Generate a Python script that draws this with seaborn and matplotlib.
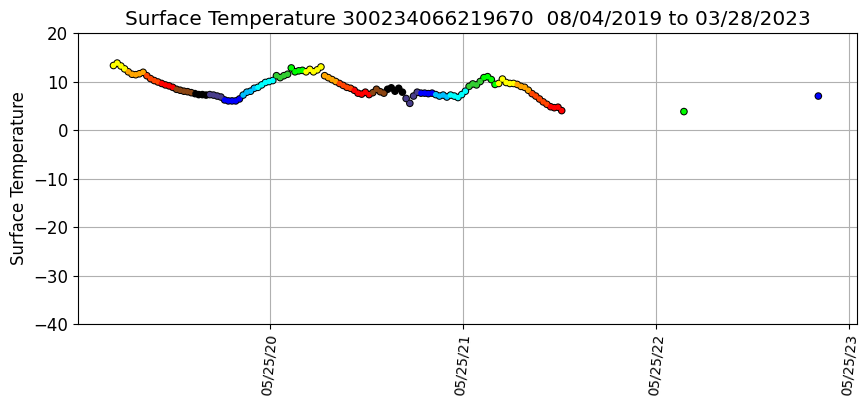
import numpy as np
import pandas as pd
import matplotlib
matplotlib.use("Agg")
import matplotlib.pyplot as plt
import matplotlib.dates as mdates
import seaborn as sns

# Weekly readings from 2019-08-04
start_date = "2019-08-04"
weekly_temps = [
    13.3, 13.8, 13.2, 12.6, 12.0, 11.5, 11.4, 11.6, 11.9, 11.2,
    10.6, 10.2, 9.9, 9.6, 9.3, 9.1, 8.8, 8.4, 8.2, 8.0,
    7.9, 7.7, 7.5, 7.3, 7.3, 7.2, 7.3, 7.2, 7.0, 6.8,
    6.2, 6.0, 6.0, 6.0, 6.4, 7.2, 7.8, 8.0, 8.6, 8.8,
    9.3, 9.8, 10.0, 10.2, 11.2, 10.8, 11.2, 11.5, 12.8, 12.0,
    12.2, 12.3, 12.0, 12.5, 12.0, 12.4, 13.0, 11.2, 10.8, 10.4,
    10.0, 9.6, 9.2, 8.8, 8.6, 8.2, 7.6, 7.4, 7.8, 7.3,
    7.7, 8.4, 7.9, 7.6, 8.4, 8.7, 8.0, 8.6, 7.8, 6.5,
    5.5, 7.0, 7.8, 7.6, 7.6, 7.5, 7.6, 7.3, 7.0, 7.2,
    6.8, 7.2, 7.0, 6.7, 7.3, 8.0, 9.0, 9.5, 9.3, 10.0,
    10.8, 11.0, 10.4, 9.4, 9.6, 10.5, 9.8, 9.6, 9.6, 9.4,
    9.0, 8.8, 8.2, 7.5, 7.0, 6.4, 5.8, 5.3, 4.8, 4.6,
    4.7, 4.0,
]
extra_dates = ["2022-07-17", "2023-03-28"]
extra_temps = [3.8, 7.0]

month_colors = {
    1: "black", 2: "darkslateblue", 3: "blue", 4: "deepskyblue",
    5: "cyan", 6: "limegreen", 7: "lime", 8: "yellow",
    9: "orange", 10: "orangered", 11: "red", 12: "saddlebrown",
}
tick_dates = ["2020-05-25", "2021-05-25", "2022-05-25", "2023-05-25"]
tick_labels = ["05/25/20", "05/25/21", "05/25/22", "05/25/23"]

dates = list(pd.date_range(start_date, periods=len(weekly_temps), freq="7D")) + \
        list(pd.to_datetime(extra_dates))
df = pd.DataFrame({"date": dates, "temp": weekly_temps + extra_temps})
df["month"] = df["date"].dt.month

fig = plt.figure(figsize=(8.68, 4.07), dpi=100)
ax = fig.add_axes([0.0899, 0.2039, 0.8974, 0.715])

sns.scatterplot(data=df, x="date", y="temp", color="black", s=30,
                edgecolor="none", linewidth=0, ax=ax, legend=False, zorder=3)
sns.scatterplot(data=df, x="date", y="temp", hue="month", palette=month_colors,
                s=16, edgecolor="none", linewidth=0, ax=ax, legend=False, zorder=4)

ax.set_ylim(-40, 20)
ax.set_yticks([-40, -30, -20, -10, 0, 10, 20])
ax.set_xlim(pd.Timestamp("2019-05-29"), pd.Timestamp("2023-06-09"))
ax.set_xticks(pd.to_datetime(tick_dates))
ax.set_xticklabels(tick_labels, rotation=85, fontsize=10)
ax.tick_params(axis="y", labelsize=12)
ax.grid(True, color="#b0b0b0", linewidth=0.8, zorder=0)
ax.set_axisbelow(True)
ax.set_xlabel("")
ax.set_ylabel("Surface Temperature", fontsize=12)
ax.set_title("Surface Temperature 300234066219670  08/04/2019 to 03/28/2023", fontsize=14.4)
for sp in ax.spines.values():
    sp.set_color("black")

fig.savefig("out.png", dpi=100)
